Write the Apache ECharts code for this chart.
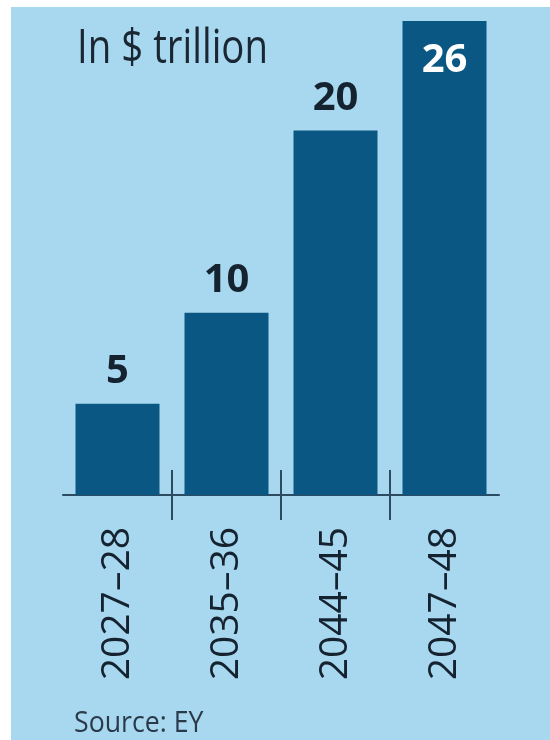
<!DOCTYPE html>
<html>
<head>
<meta charset="utf-8">
<script src="https://cdn.jsdelivr.net/npm/echarts@6/dist/echarts.min.js"></script>
<style>
  html, body { margin: 0; padding: 0; background: #ffffff; width: 550px; height: 740px; overflow: hidden; }
  #chart { position: absolute; left: 11px; top: 7px; width: 539px; height: 733px; }
</style>
</head>
<body>
<div id="chart"></div>
<script>
const categories = ['2027\u201328', '2035\u201336', '2044\u201345', '2047\u201348'];
const values = [5, 10, 20, 26];
const titleText = 'In $ trillion';
const sourceText = 'Source: EY';

const FONT = '"Open Sans", "Noto Sans", sans-serif';
const BAR = '#0b5783';
const INK = '#15222f';

const chart = echarts.init(document.getElementById('chart'));

const seriesData = values.map(function (v, i) {
  const isLast = i === values.length - 1;
  return {
    value: v,
    label: isLast
      ? { position: 'insideTop', color: '#ffffff', distance: 20 }
      : { position: 'top', color: INK, distance: 12 }
  };
});

const option = {
  backgroundColor: '#a8d8ef',
  animation: false,
  graphic: [
    {
      type: 'text',
      x: 66,
      y: 18,
      scaleX: 0.8,
      style: {
        text: titleText,
        x: 0,
        y: 0,
        font: '48px "Open Sans", "Noto Sans", sans-serif',
        fill: '#1a2733',
        textAlign: 'left',
        textVerticalAlign: 'top'
      }
    },
    {
      type: 'text',
      x: 63,
      y: 702,
      scaleX: 0.92,
      style: {
        text: sourceText,
        x: 0,
        y: 0,
        font: '29px "Open Sans", "Noto Sans", sans-serif',
        fill: '#2a3a4a',
        textAlign: 'left',
        textVerticalAlign: 'top'
      }
    }
  ],
  grid: { left: 52, width: 436, top: 14, bottom: 245, containLabel: false },
  xAxis: [
    {
      type: 'category',
      data: categories,
      boundaryGap: true,
      axisLine: { show: true, lineStyle: { color: '#2c4a60', width: 2 } },
      axisTick: { show: false },
      axisLabel: {
        rotate: 90,
        margin: 32,
        fontFamily: FONT,
        fontSize: 39,
        color: INK
      }
    },
    {
      type: 'category',
      data: [''].concat(categories.map(function () { return ''; })),
      boundaryGap: false,
      position: 'bottom',
      offset: 25,
      axisLine: { show: false },
      axisLabel: { show: false },
      axisTick: {
        show: true,
        inside: true,
        length: 50,
        interval: function (index) { return index > 0 && index < categories.length; },
        lineStyle: { color: '#2c4a60', width: 2 }
      }
    }
  ],
  yAxis: { type: 'value', min: 0, max: 26, show: false },
  series: [
    {
      type: 'bar',
      xAxisIndex: 0,
      data: seriesData,
      barWidth: 84,
      itemStyle: { color: BAR },
      label: {
        show: true,
        fontFamily: FONT,
        fontSize: 40,
        fontWeight: 'bold'
      }
    }
  ]
};

chart.setOption(option);
</script>
</body>
</html>
